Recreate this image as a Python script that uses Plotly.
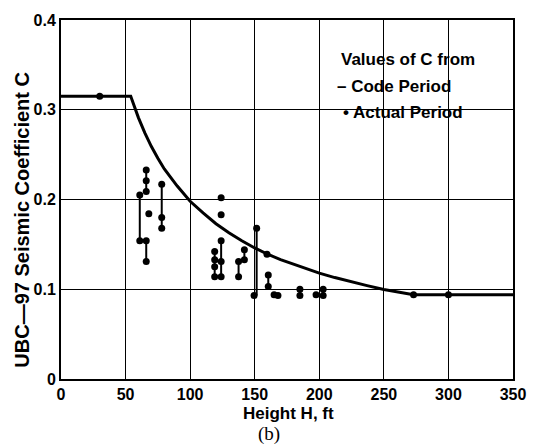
import plotly.graph_objects as go

# Code-period curve
code_H = [0, 54, 56, 58, 60, 65, 70, 75, 80, 90, 100, 110, 120, 130, 140, 150, 160, 170,
          180, 190, 200, 212, 225, 237, 250, 262, 273, 350]
code_C = [0.315, 0.315, 0.307, 0.299, 0.291, 0.274, 0.259, 0.246, 0.234, 0.215, 0.198,
          0.185, 0.173, 0.163, 0.154, 0.146, 0.139, 0.133, 0.128, 0.123, 0.118, 0.113,
          0.108, 0.104, 0.0997, 0.0965, 0.094, 0.094]

# Actual-period points
act_H = [30, 61, 61, 66, 66, 66, 66, 66, 68, 78, 78, 78,
         124, 124, 119, 119, 119, 119, 124, 124, 124,
         137.5, 137.5, 142, 142, 151.5, 149.5, 159.5, 160.5, 160.5,
         165, 168, 185, 185, 197.5, 203, 203, 273, 300]
act_C = [0.315, 0.205, 0.154, 0.233, 0.221, 0.209, 0.154, 0.131, 0.184, 0.217, 0.180, 0.168,
         0.202, 0.183, 0.142, 0.133, 0.125, 0.114, 0.154, 0.131, 0.114,
         0.131, 0.114, 0.144, 0.133, 0.168, 0.093, 0.139, 0.116, 0.103,
         0.094, 0.093, 0.100, 0.093, 0.094, 0.100, 0.093, 0.094, 0.094]

# Range segments joining actual-period values of one building
seg_x0 = [61, 66, 66, 61, 78, 119, 124, 119, 137.5, 137.5, 142, 151.5, 151.5, 160.5, 165, 185, 203]
seg_y0 = [0.154, 0.209, 0.131, 0.154, 0.168, 0.114, 0.114, 0.131, 0.114, 0.131, 0.133, 0.093, 0.093, 0.103, 0.094, 0.093, 0.093]
seg_x1 = [61, 66, 66, 66, 78, 119, 124, 124, 137.5, 142, 142, 151.5, 149.5, 160.5, 168, 185, 203]
seg_y1 = [0.205, 0.233, 0.154, 0.154, 0.217, 0.142, 0.154, 0.131, 0.131, 0.133, 0.144, 0.168, 0.093, 0.116, 0.093, 0.100, 0.100]

x_ticks = [0, 50, 100, 150, 200, 250, 300, 350]
y_ticks = [0, 0.1, 0.2, 0.3, 0.4]
y_tick_text = ["0", "0.1", "0.2", "0.3", "0.4"]

seg_x, seg_y = [], []
for a, b, c, d in zip(seg_x0, seg_y0, seg_x1, seg_y1):
    seg_x += [a, c, None]
    seg_y += [b, d, None]

fig = go.Figure()
fig.add_trace(go.Scatter(x=seg_x, y=seg_y, mode="lines",
                         line=dict(color="black", width=2), showlegend=False))
fig.add_trace(go.Scatter(x=code_H, y=code_C, mode="lines",
                         line=dict(color="black", width=3),
                         showlegend=False))
fig.add_trace(go.Scatter(x=act_H, y=act_C, mode="markers",
                         marker=dict(color="black", size=7), showlegend=False))

font = "Liberation Sans, Arial, sans-serif"
bold = dict(size=16, weight="bold")
fig.update_layout(
    width=538, height=447,
    margin=dict(l=61, r=14, t=15, b=68),
    paper_bgcolor="white", plot_bgcolor="white",
    font=dict(family=font, color="black", size=16),
    xaxis=dict(range=[0, 350], tickvals=x_ticks, showgrid=True, gridcolor="black",
               gridwidth=1, showline=True, linecolor="black", linewidth=2, mirror=True,
               zeroline=False, ticks="", tickfont=bold),
    yaxis=dict(range=[0, 0.4], tickvals=y_ticks, ticktext=y_tick_text, showgrid=True,
               gridcolor="black", gridwidth=1, showline=True, linecolor="black",
               linewidth=2, mirror=True, zeroline=False, ticks="", tickfont=bold),
    annotations=[
        dict(xref="paper", yref="paper", x=0.503, y=-0.096, xanchor="center", yanchor="middle",
             text="Height H, ft", showarrow=False, font=dict(size=17, weight="bold")),
        dict(xref="paper", yref="paper", x=-0.0853, y=0.445, xanchor="center", yanchor="middle",
             text="UBC\u201497 Seismic Coefficient C", textangle=-90, showarrow=False,
             font=dict(size=20, weight="bold")),
        dict(xref="paper", yref="paper", x=0.616, y=0.890, xanchor="left", yanchor="middle",
             text="Values of C from", showarrow=False, font=dict(size=17, weight="bold")),
        dict(xref="paper", yref="paper", x=0.607, y=0.816, xanchor="left", yanchor="middle",
             text="\u2013 Code Period", showarrow=False, font=dict(size=17, weight="bold")),
        dict(xref="paper", yref="paper", x=0.619, y=0.742, xanchor="left", yanchor="middle",
             text="\u2022 Actual Period", showarrow=False, font=dict(size=17, weight="bold")),
        dict(xref="paper", yref="paper", x=0.460, y=-0.154, xanchor="center", yanchor="middle",
             text="(b)", showarrow=False,
             font=dict(size=19, family="Liberation Serif, Times New Roman, serif")),
    ],
)
fig.write_html("out.html")
